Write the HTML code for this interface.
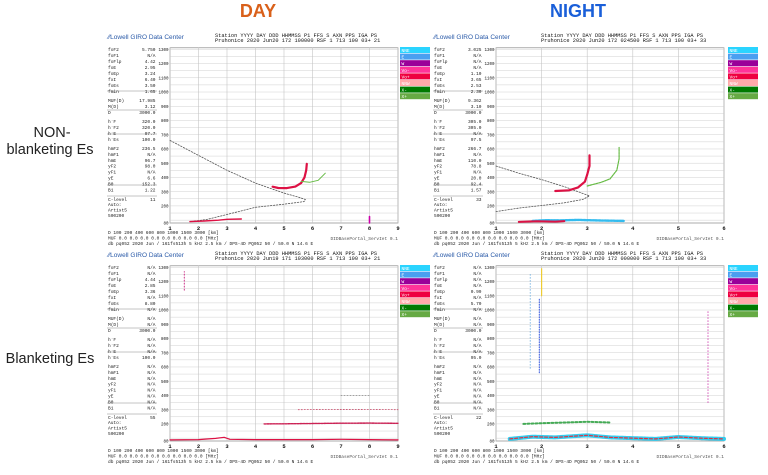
<!DOCTYPE html>
<html><head><meta charset="utf-8"><style>
html,body{margin:0;padding:0;background:#fff;}
svg{display:block;font-family:"Liberation Mono",monospace;}
</style></head><body>
<svg id="chart" width="768" height="475" viewBox="0 0 768 475" xmlns="http://www.w3.org/2000/svg">
<text x="258" y="17" text-anchor="middle" font-family="Liberation Sans, sans-serif" font-weight="bold" font-size="18" fill="#d9601a">DAY</text>
<text x="578" y="17" text-anchor="middle" font-family="Liberation Sans, sans-serif" font-weight="bold" font-size="18" fill="#1a5fd9">NIGHT</text>
<text font-family="Liberation Sans, sans-serif" font-size="14.5" fill="#222" text-anchor="middle"><tspan x="52" y="137">NON-</tspan><tspan x="50" y="154">blanketing Es</tspan></text>
<text x="50" y="363" font-family="Liberation Sans, sans-serif" font-size="14.5" fill="#222" text-anchor="middle">Blanketing Es</text>
</svg>
<script>
// ---- data ----
const yTicks = [80,200,300,400,500,600,700,800,900,1000,1100,1200,1300];
const dayFreqTicks = [1,2,3,4,5,6,7,8,9];
const nightFreqTicks = [1,2,3,4,5,6];
const legendLabels = ["NNE","E","W","Vo-","Vo+","NNW","X-","X+"];
const legendColors = ["#2ad4ff","#4a9ff0","#990099","#ff3399","#ee0040","#ffaaaa","#007a00","#66aa44"];
const infoLabels = ["foF2","foF1","foFlp","foE","foEp","fxI","foEs","fmin","MUF(D)","M(D)","D","h`F","h`F2","h`E","h`Es","hmF2","hmF1","hmE","yF2","yF1","yE","B0","B1","C-level"];
const infoDayNon = ["5.750","N/A","4.42","2.95","3.24","6.40","3.50","1.65","17.985","3.12","3000.0","320.0","320.0","97.7","100.0","236.5","N/A","96.7","98.0","N/A","6.6","152.3","1.22","11"];
const infoNightNon = ["3.025","N/A","N/A","N/A","1.10","3.65","2.53","2.30","9.362","3.10","3000.0","305.0","305.0","N/A","97.5","266.7","N/A","110.0","78.8","N/A","20.0","92.4","1.57","33"];
const infoDayBl = ["N/A","N/A","4.44","2.85","3.36","N/A","8.80","N/A","N/A","N/A","3000.0","N/A","N/A","N/A","100.0","N/A","N/A","N/A","N/A","N/A","N/A","N/A","N/A","55"];
const infoNightBl = ["N/A","N/A","N/A","N/A","0.99","N/A","5.70","N/A","N/A","N/A","3000.0","N/A","N/A","N/A","95.0","N/A","N/A","N/A","N/A","N/A","N/A","N/A","N/A","22"];
// traces: [freq MHz, virtual height km]
const dayNonModel = [[1,660],[2,555],[3,450],[4,360],[5,290],[5.5,262],[5.75,245],[5.7,230],[5,212],[4,190],[3,140],[2.3,105],[1.8,92]];
const dayNonO = [[4.6,335],[4.8,326],[5.1,325],[5.4,336],[5.6,360],[5.72,400],[5.78,450],[5.8,495]];
const dayNonX = [[5.6,372],[5.9,366],[6.2,380],[6.45,430]];
const dayNonEs = [[1.7,90],[2.2,94],[2.7,100],[3.0,106],[3.5,108]];
const dayNonSpike = [[8,80],[8,125]];
const nightNonModel = [[1,480],[1.5,430],[2,385],[2.5,335],[2.8,300],[3.05,270],[2.9,245],[2.5,222],[2,203],[1.5,185],[1,160]];
const nightNonO = [[2.3,305],[2.6,310],[2.8,330],[2.95,370],[3.0,420],[3.05,480],[3.05,555]];
const nightNonX = [[3.0,340],[3.3,365],[3.5,390],[3.65,450],[3.7,530],[3.7,610]];
const nightNonEsCyan = [[1.8,95],[2.1,100],[2.4,98],[2.8,102],[3.1,99],[3.4,97],[3.8,95]];
const nightNonEsRed = [[1.5,88],[1.9,92],[2.3,90],[2.5,93]];
const dayBlEs = [[1,88],[2,90],[2.6,98],[2.9,106],[3.1,92],[4,90],[5,90],[6,90],[7,92],[8,90],[9,88]];
const dayBlE2 = [[4.3,200],[5,201],[6,203],[7,205],[8,206],[9,204]];
const dayBlE3 = [[5.5,300],[6.5,301],[7.5,302],[9,300]];
const dayBlE4 = [[7,400],[8,400]];
const dayBlSpike = [[1.5,1140],[1.5,1270]];
const nightBlBandA = [[1.3,95],[1.8,110],[2.3,105],[3,120],[3.5,105],[4.5,95],[5,108],[5.5,100],[6,95]];
const nightBlBandB = [[1.6,200],[2,205],[2.5,210],[3,215],[3.5,210]];
const nightBlSpike1 = [[1.95,560],[1.95,1080]];
const nightBlSpike2 = [[1.75,590],[1.75,1260]];
const nightBlSpike3 = [[5.65,350],[5.65,1000]];
const nightBlSpike4 = [[2.0,1100],[2.0,1290]];

const svg = document.getElementById('chart');
const NS = 'http://www.w3.org/2000/svg';
function mk(tag, attrs, parent){const e=document.createElementNS(NS,tag);for(const k in attrs)e.setAttribute(k,attrs[k]);(parent||svg).appendChild(e);return e;}

function panel(ox, oy, fmax, freqTicks, info, header, night, name){
  const g = mk('g',{});
  
  
  const x0 = ox+170, x1 = ox+398, yTop = oy+49.3, yBot = oy+223;
  const xs = f => x0 + (f-1)/(fmax-1)*(x1-x0);
  const ys = h => yBot - (h-80)/(1300-80)*(yBot-yTop);
  const logo = mk('text',{x:ox+108,y:oy+39,'font-family':'Liberation Sans, sans-serif','font-size':6.5,fill:'#2a5aa8'},g);
  logo.textContent='⁄⁄Lowell GIRO Data Center';
  
  
  const h1 = mk('text',{x:ox+215,y:oy+37,'font-size':5.3,fill:'#111'},g);
  h1.textContent='Station   YYYY DAY   DDD HHMMSS P1  FFS S AXN PPS IGA PS';
  
  
  const h2 = mk('text',{x:ox+215,y:oy+42,'font-size':5.3,fill:'#111'},g);
  h2.textContent=header;
  
  
  const plot = mk('rect',{x:x0,y:yTop-1.5,width:x1-x0,height:yBot-yTop+1.5,fill:'#fff',stroke:'#888','stroke-width':0.7},g);
  
  
  for(let h=100;h<=1300;h+=50){
    mk('line',{x1:x0,x2:x1,y1:ys(h),y2:ys(h),stroke:'#d0d0d0','stroke-width':0.5},g);
  }
  freqTicks.forEach(f=>{
    mk('line',{x1:xs(f),x2:xs(f),y1:yTop-1.5,y2:yBot,stroke:'#c4c4c4','stroke-width':0.6},g);
    const t = mk('text',{x:xs(f),y:yBot+7,'font-size':5.5,'text-anchor':'middle',fill:'#111','font-weight':'bold'},g);
    t.textContent=f;
    
    
  });
  yTicks.forEach(h=>{
    const t = mk('text',{x:x0-1.5,y:ys(h)+1.6,'font-size':4.2,'text-anchor':'end',fill:'#111'},g);
    t.textContent=h;
    
    
  });
  const rowY = [];
  let y = oy+51;
  infoLabels.forEach((l,i)=>{
    if(i===8||i===11||i===15) y+=3;
    if(i===23) y+=4;
    rowY.push(y); y+= (i>=15&&i<23)?5.9:6;
  });
  [[oy+92],[oy+111],[oy+135],[oy+186],[oy+197]].forEach(v=>mk('line',{x1:ox+107,x2:ox+157,y1:v[0]-1,y2:v[0]-1,stroke:'#888','stroke-width':0.5},g));
  infoLabels.forEach((l,i)=>{
    const a = mk('text',{x:ox+108,y:rowY[i],'font-size':4.5,fill:'#222'},g);
    a.textContent=l;
    
    
    const b = mk('text',{x:ox+155.5,y:rowY[i],'font-size':4.5,'text-anchor':'end',fill:'#222'},g);
    b.textContent=info[i];
    
    
  });
  ['Auto:','Artist5','500200'].forEach((s,i)=>{
    const a = mk('text',{x:ox+108,y:oy+206+i*5.5,'font-size':4.5,fill:'#222'},g);
    a.textContent=s;
    
    
  });
  const foot = [ 'D    100  200  400  600  800 1000 1500 3000 [km]', 'MUF  0.0  0.0  0.0  0.0  0.0  0.0  0.0  0.0 [MHz]', 'db pq052 2020 Jun / 161fs513h 5 kHz 2.5 km / DPS-4D PQ052 50 / 50.0 N 14.6 E'];
  foot.forEach((s,i)=>{
    const a = mk('text',{x:ox+108,y:oy+234+i*5.5,'font-size':4.5,fill:'#222'},g);
    a.textContent=s;
    
    
  });
  const dp = mk('text',{x:ox+398,y:oy+240,'font-size':4.5,'text-anchor':'end',fill:'#555'},g);
  dp.textContent='DIDBasePortal_ServIet 0.1';
  
  
  if(night){
    [ox+74, ox+402].forEach((lx,side)=>{
      legendLabels.forEach((lab,i)=>{
        const r = mk('rect',{x:lx,y:oy+47+i*6.6,width:30,height:6,fill:legendColors[i]},g);
        
        
        const t = mk('text',{x:lx+1.5,y:oy+52+i*6.6,'font-size':4.5,fill:'#fff'},g);
        t.textContent=lab;
        
        
      });
    });
  }
  return {g,xs,ys};
}
function trace(p, pts, color, opts, name){
  const d = pts.map((q,i)=>(i?'L':'M')+p.xs(q[0]).toFixed(1)+','+p.ys(q[1]).toFixed(1)).join('');
  const e = mk('path',Object.assign({d:d,fill:'none',stroke:color,'stroke-width':1.6,'stroke-linecap':'round','stroke-linejoin':'round'},opts||{}),p.g);
  
  
}

const pDN = panel(0,0,9,dayFreqTicks,infoDayNon,'Pruhonice 2020 Jun20 172 100000 RSF      1 713 100 03+ 21',false,'panel-day-non-blanketing');
trace(pDN,dayNonModel,'#555',{'stroke-width':0.8,'stroke-dasharray':'1.5,1.5'},'true-height-profile');
trace(pDN,dayNonO,'#dd1144',{'stroke-width':2.2},'o-trace');
trace(pDN,dayNonX,'#66bb44',{'stroke-width':1},'x-trace');
trace(pDN,dayNonEs,'#dd1144',{'stroke-width':1.4},'es-trace');
trace(pDN,dayNonSpike,'#cc00aa',{'stroke-width':1.6},'interference-spike');

const pNN = panel(326,0,6,nightFreqTicks,infoNightNon,'Pruhonice 2020 Jun20 172 024500 RSF      1 713 100 03+ 33',true,'panel-night-non-blanketing');
trace(pNN,nightNonModel,'#555',{'stroke-width':0.8,'stroke-dasharray':'1.5,1.5'},'true-height-profile');
trace(pNN,nightNonO,'#dd1144',{'stroke-width':2.2},'o-trace');
trace(pNN,nightNonX,'#66bb44',{'stroke-width':1.2,'stroke-dasharray':'2,1'},'x-trace');
trace(pNN,nightNonEsCyan,'#33bbee',{'stroke-width':2.4,'stroke-dasharray':'2,1'},'es-trace-cyan');
trace(pNN,nightNonEsRed,'#dd1144',{'stroke-width':2},'es-trace-red');

const pDB = panel(0,218,9,dayFreqTicks,infoDayBl,'Pruhonice 2020 Jun19 171 103000 RSF      1 713 100 03+ 21',false,'panel-day-blanketing');
trace(pDB,dayBlEs,'#dd1144',{'stroke-width':1.2},'es-trace');
trace(pDB,dayBlE2,'#cc2255',{'stroke-width':1.4,'stroke-dasharray':'2,1'},'es-multiple-2');
trace(pDB,dayBlE3,'#cc4466',{'stroke-width':0.8,'stroke-dasharray':'1,2'},'es-multiple-3');
trace(pDB,dayBlE4,'#888',{'stroke-width':0.8,'stroke-dasharray':'1,2'},'es-multiple-4');
trace(pDB,dayBlSpike,'#cc3388',{'stroke-width':1,'stroke-dasharray':'1,2'},'interference-spike');

const pNB = panel(326,218,6,nightFreqTicks,infoNightBl,'Pruhonice 2020 Jun20 172 000000 RSF      1 713 100 03+ 33',true,'panel-night-blanketing');
trace(pNB,nightBlBandA,'#33ccee',{'stroke-width':4,'stroke-dasharray':'2,1'},'es-scatter-cyan');
trace(pNB,nightBlBandA,'#dd3344',{'stroke-width':1.2,'stroke-dasharray':'3,2'},'es-scatter-red');
trace(pNB,nightBlBandB,'#44aa55',{'stroke-width':2,'stroke-dasharray':'2,2'},'es-scatter-green');
trace(pNB,nightBlSpike1,'#3355dd',{'stroke-width':1,'stroke-dasharray':'1,1.5'},'spike-blue');
trace(pNB,nightBlSpike2,'#66aadd',{'stroke-width':0.8,'stroke-dasharray':'1,2'},'spike-lightblue');
trace(pNB,nightBlSpike3,'#cc33aa',{'stroke-width':0.8,'stroke-dasharray':'1,2'},'spike-magenta');
trace(pNB,nightBlSpike4,'#eecc33',{'stroke-width':1.2},'spike-yellow');
</script>
</body></html>
